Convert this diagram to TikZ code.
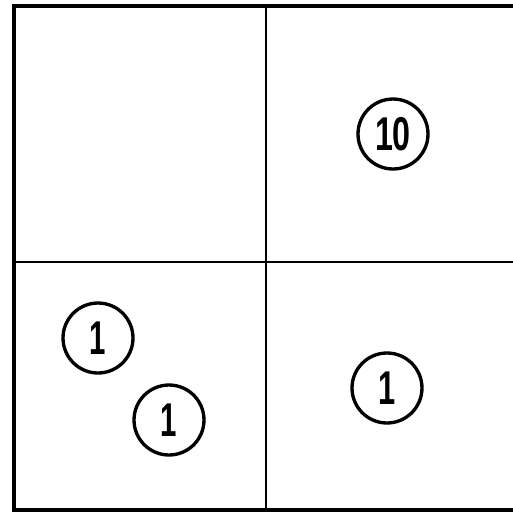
\documentclass[tikz,border=0pt]{standalone}
\usepackage{fontspec}
\setmainfont{Liberation Sans}
\usepackage{tikz}
\usetikzlibrary{positioning}

\begin{document}
\begin{tikzpicture}[x=0.02cm,y=-0.02cm,
      cell/.style={line width=1.7pt},
      coin/.style={draw,circle,line width=1.9pt,minimum size=1.4cm,inner sep=0pt,font=\fontsize{27}{27}\selectfont}]
    \useasboundingbox (0,0) rectangle (512,518);
    % outer frame, right side runs off the page
    \draw[line width=2.4pt] (520,6) -- (14,6) -- (14,510) -- (520,510);
    \draw[cell] (266,6) -- (266,510);
    \draw[cell] (14,262) -- (520,262);
    % counters
    \node[coin] (ten) at (393,134) {\scalebox{0.68}[1]{\textbf{10}}};
    \node[coin] (oneA) at (98,338) {\scalebox{0.62}[1]{\textbf{1}}};
    \node[coin] (oneB) at (169,420) {\scalebox{0.62}[1]{\textbf{1}}};
    \node[coin] (oneC) at (387,388) {\scalebox{0.65}[1]{\textbf{1}}};
\end{tikzpicture}
\end{document}
